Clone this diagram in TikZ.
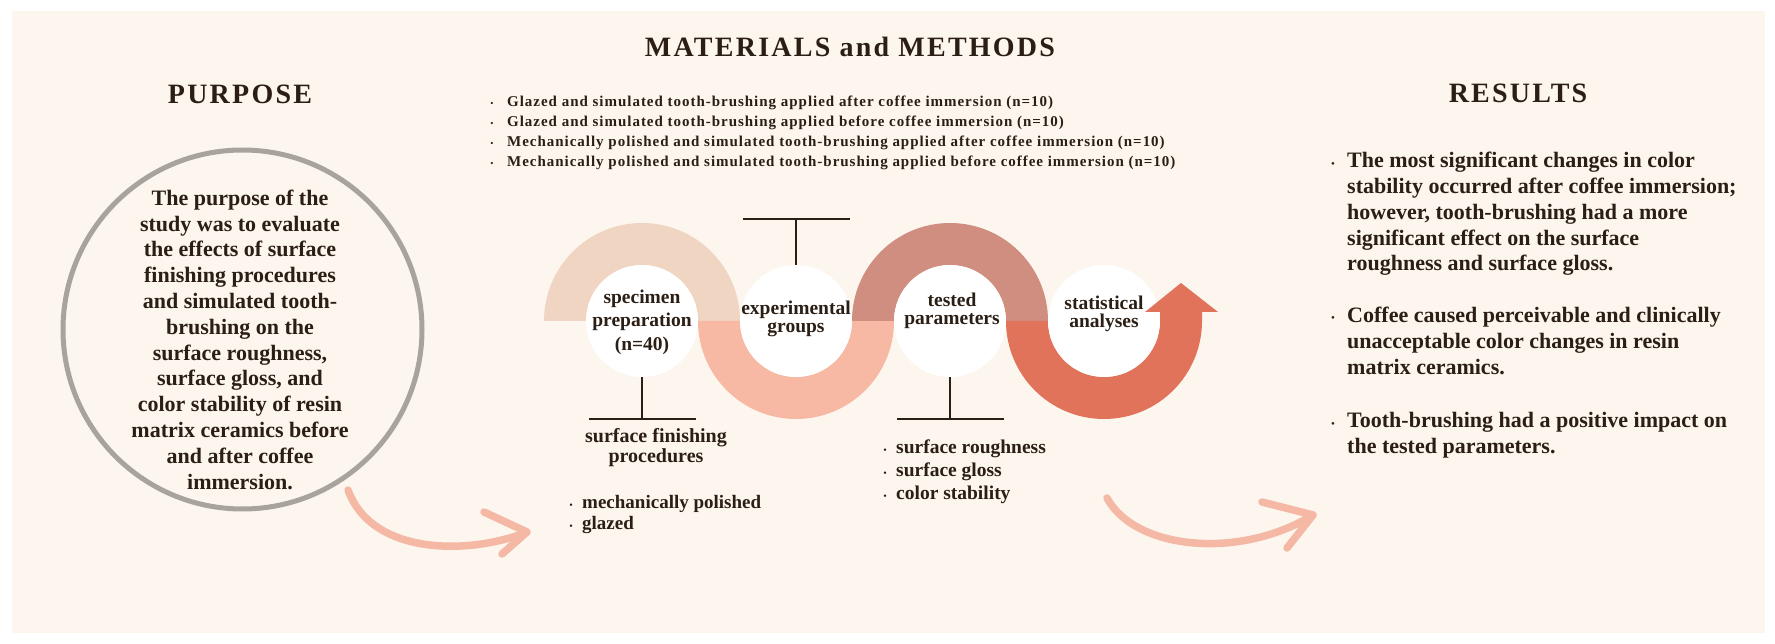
\documentclass[tikz,border=0pt]{standalone}
\usepackage{fontspec}
\setmainfont{Liberation Serif}
\newfontfamily\ttlfont{Liberation Serif}[LetterSpace=8]
\newfontfamily\lstfont{Liberation Serif}[LetterSpace=6.5]
\definecolor{bgc}{HTML}{FCF6EF}
\definecolor{ringA}{HTML}{EFD5C2}
\definecolor{ringB}{HTML}{F7B9A3}
\definecolor{ringC}{HTML}{CF8E7F}
\definecolor{ringD}{HTML}{E0735A}
\definecolor{ink}{HTML}{2B1E14}
\definecolor{greyc}{HTML}{A8A49D}
\definecolor{arrowc}{HTML}{F5B8A4}
\tikzset{
  ttl/.style={font=\ttlfont\bfseries\fontsize{28}{30}\selectfont, text=ink, inner sep=0, anchor=base},
  body/.style={font=\bfseries\fontsize{22}{25.8}\selectfont, text=ink, inner sep=0},
  lbl/.style={font=\bfseries\fontsize{19.5}{17.5}\selectfont, text=ink, inner sep=0, align=center, anchor=base},
  lst/.style={font=\bfseries\fontsize{19.5}{23}\selectfont, text=ink, inner sep=0, align=left, anchor=base west},
  bul/.style={text=ink, inner sep=0, align=center, anchor=base},
  wcirc/.style={circle, fill=white, minimum size=112pt, inner sep=0},
  tbar/.style={draw=ink, line width=1.8pt},
  brush/.style={draw=arrowc, line width=7.5pt, line cap=round, line join=round},
}
\begin{document}
\begin{tikzpicture}[x=1pt,y=-1pt]
\useasboundingbox (0,0) rectangle (1775,644);
\fill[white] (0,0) rectangle (1775,644);
\fill[bgc] (12,11) rectangle (1765,633);

% titles
\node[ttl] (tpur) at (240,104) {PURPOSE};
\node[ttl] (tmm) at (850,57) {MATERIALS and METHODS};
\node[ttl] (tres) at (1518,103) {RESULTS};

% purpose circle (multi-line nodes are anchored at their last baseline)
\node[circle, draw=greyc, line width=5pt, minimum size=359pt, inner sep=0] (pcirc) at (242.5,329.5) {};
\node[body, align=center, anchor=base] (ptext) at (240,489) {The purpose of the\\study was to evaluate\\the effects of surface\\finishing procedures\\and simulated tooth-\\brushing on the\\surface roughness,\\surface gloss, and\\color stability of resin\\matrix ceramics before\\and after coffee\\immersion.};

% top list
\node[bul, font=\fontsize{9}{20}\selectfont] (gb) at (492,167) {•\\•\\•\\•};
\node[font=\lstfont\bfseries\fontsize{15}{20}\selectfont, text=ink, inner sep=0, align=left, anchor=base west] (groups) at (507,167) {Glazed and simulated tooth-brushing applied after coffee immersion (n=10)\\Glazed and simulated tooth-brushing applied before coffee immersion (n=10)\\Mechanically polished and simulated tooth-brushing applied after coffee immersion (n=10)\\Mechanically polished and simulated tooth-brushing applied before coffee immersion (n=10)};

% snake rings
\fill[ringA] (544,321) arc[start angle=180,end angle=360,radius=98] -- (698,321) arc[start angle=0,end angle=-180,radius=56] -- cycle;
\fill[ringB] (698,321) arc[start angle=180,end angle=0,radius=98] -- (852,321) arc[start angle=0,end angle=180,radius=56] -- cycle;
\fill[ringC] (852,321) arc[start angle=180,end angle=360,radius=98] -- (1006,321) arc[start angle=0,end angle=-180,radius=56] -- cycle;
\fill[ringD] (1006,321) arc[start angle=180,end angle=0,radius=98] -- (1160,321) arc[start angle=0,end angle=180,radius=56] -- cycle;

% white circles
\node[wcirc] (c1) at (642,321) {};
\node[wcirc] (c2) at (796,321) {};
\node[wcirc] (c3) at (950,321) {};
\node[wcirc] (c4) at (1104,321) {};

% arrow head of the snake
\fill[ringD] (1160,322) -- (1160,312) -- (1145,312) -- (1181,283) -- (1218,312) -- (1202,312) -- (1202,322) -- cycle;

% labels in circles
\node[lbl, font=\bfseries\fontsize{19.5}{23.5}\selectfont] (l1) at (642,350) {specimen\\preparation\\(n=40)};
\node[lbl] (l2) at (796,332) {experimental\\groups};
\node[lbl] (l3) at (952,324) {tested\\parameters};
\node[lbl] (l4) at (1104,327) {statistical\\analyses};

% T markers
\draw[tbar] (c1.south) -- ++(0,42) ++(-53,0) -- ++(107,0);
\draw[tbar] (c2.north) -- ++(0,-46) ++(-53,0) -- ++(107,0);
\draw[tbar] (c3.south) -- ++(0,42) ++(-53,0) -- ++(107,0);

% lower texts
\node[lbl, font=\bfseries\fontsize{20}{15.6}\selectfont] (sfp) at (656,462) {surface finishing\\procedures};
\node[bul, font=\fontsize{10}{21}\selectfont] (mb) at (571,529) {•\\•};
\node[lst, font=\bfseries\fontsize{19}{21}\selectfont] (mlist) at (582,529) {mechanically polished\\glazed};
\node[bul, font=\fontsize{10}{23}\selectfont] (pb) at (885,499) {•\\•\\•};
\node[lst] (plist) at (896,499) {surface roughness\\surface gloss\\color stability};

% results
\node[bul, font=\fontsize{11}{22}\selectfont] (rb1) at (1333,168) {•};
\node[body, align=left, anchor=base west] (r1) at (1347,271) {The most significant changes in color\\stability occurred after coffee immersion;\\however, tooth-brushing had a more\\significant effect on the surface\\roughness and surface gloss.};
\node[bul, font=\fontsize{11}{22}\selectfont] (rb2) at (1333,322) {•};
\node[body, align=left, anchor=base west] (r2) at (1347,374) {Coffee caused perceivable and clinically\\unacceptable color changes in resin\\matrix ceramics.};
\node[bul, font=\fontsize{11}{22}\selectfont] (rb3) at (1333,427) {•};
\node[body, align=left, anchor=base west] (r3) at (1347,453) {Tooth-brushing had a positive impact on\\the tested parameters.};

% brush arrows
\coordinate (a1s) at (348,490);
\coordinate (a1t) at (527,532);
\coordinate (a1u) at (484,512);
\coordinate (a1l) at (502,554);
\draw[brush] (a1s) .. controls (372,556) and (470,555) .. (a1t);
\draw[brush] (a1u) -- (a1t) -- (a1l);
\coordinate (a2s) at (1107,498);
\coordinate (a2t) at (1313,515);
\coordinate (a2u) at (1262,502);
\coordinate (a2l) at (1287,548);
\draw[brush] (a2s) .. controls (1135,550) and (1240,560) .. (a2t);
\draw[brush] (a2u) -- (a2t) -- (a2l);
\end{tikzpicture}
\end{document}
